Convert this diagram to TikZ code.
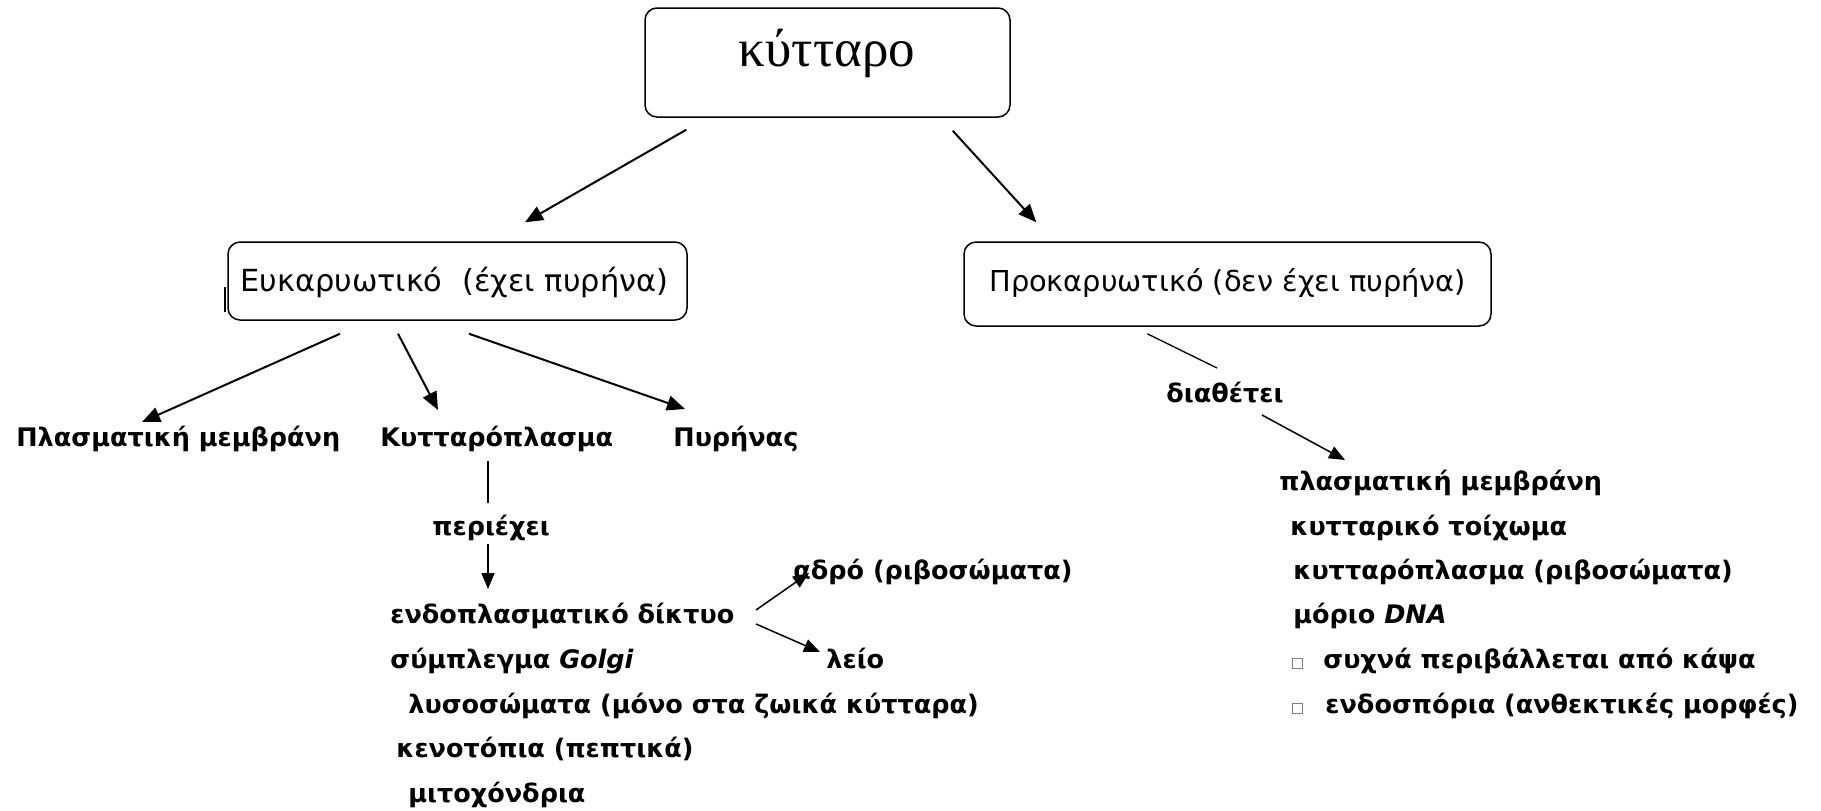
\documentclass[tikz,border=0pt]{standalone}
\usepackage{fontspec}
\setmainfont{DejaVu Sans}
\newfontfamily\titlefont{Liberation Serif}
\usetikzlibrary{arrows.meta}

\begin{document}
\begin{tikzpicture}[x=0.5pt,y=-0.5pt,
  box/.style={draw, line width=0.75pt, rounded corners=6pt, inner sep=0pt},
  boxtext/.style={font=\fontsize{14.4}{16}\selectfont, inner sep=0pt, anchor=base west},
  term/.style={font=\bfseries\fontsize{12.75}{15}\selectfont, inner sep=0pt, anchor=base west},
  arr/.style={line width=1pt, -{Triangle[length=9pt,width=7.5pt]}},
  thinarr/.style={line width=0.75pt, -{Triangle[length=8pt,width=6.5pt]}},
  thinline/.style={line width=0.65pt},
  tick/.style={draw=gray, line width=0.4pt, minimum size=5pt, inner sep=0pt}]
\useasboundingbox (0,0) rectangle (1821,810);

% top box
\node[box, minimum width=182.5pt, minimum height=54.5pt] (kyt) at (827.5,62.5) {};
\node[font=\titlefont\fontsize{26.5}{30}\selectfont, inner sep=0pt] (kyttxt) at (827,53) {κύτταρο};

% eukaryotic and prokaryotic boxes
\node[box, minimum width=229.5pt, minimum height=39pt] (euk) at (457.5,281) {};
\node[boxtext, font=\fontsize{15.2}{17}\selectfont] (euktxt) at (240,291) {Ευκαρυωτικό\hspace{10pt}(έχει πυρήνα)};
\draw[line width=1pt] (225,287) -- (225,312);
\node[box, minimum width=263.5pt, minimum height=42pt] (prok) at (1227.5,284) {};
\node[boxtext] (proktxt) at (989,291) {Προκαρυωτικό (δεν έχει πυρήνα)};

% eukaryotic branch
\node[term] (pmem) at (16,446) {Πλασματική μεμβράνη};
\node[term] (kpl) at (380,446) {Κυτταρόπλασμα};
\node[term] (pyr) at (673,446) {Πυρήνας};
\node[term] (perie) at (432,535) {περιέχει};
\node[term] (endo) at (390,623) {ενδοπλασματικό δίκτυο};
\node[term] (golgi) at (390,668) {σύμπλεγμα \textit{Golgi}};
\node[term] (lyso) at (408,713) {λυσοσώματα (μόνο στα ζωικά κύτταρα)};
\node[term] (keno) at (396,757) {κενοτόπια (πεπτικά)};
\node[term] (mito) at (408,802) {μιτοχόνδρια};
\node[term] (adro) at (793,579) {αδρό (ριβοσώματα)};
\node[term] (leio) at (826,668) {λείο};

% prokaryotic branch
\node[term] (diath) at (1166,402) {διαθέτει};
\node[term] (p1) at (1279,490) {πλασματική μεμβράνη};
\node[term] (p2) at (1290,535) {κυτταρικό τοίχωμα};
\node[term] (p3) at (1293,579) {κυτταρόπλασμα (ριβοσώματα)};
\node[term] (p4) at (1293,623) {μόριο \textit{DNA}};
\node[tick] (b5) at (1297.5,663) {};
\node[term] (p5) at (1323,668) {συχνά περιβάλλεται από κάψα};
\node[tick] (b6) at (1297.5,708) {};
\node[term] (p6) at (1325,713) {ενδοσπόρια (ανθεκτικές μορφές)};

% connectors
\draw[arr] ([shift={(42,12)}]kyt.south west) -- ([shift={(67.5,-19)}]euk.north);
\draw[arr] ([shift={(-58,13)}]kyt.south east) -- ([shift={(73,-19)}]prok.north west);
\draw[arr] ([shift={(-117.5,13)}]euk.south) -- ([shift={(126,-24)}]pmem.base west);
\draw[arr] ([shift={(-59.5,13)}]euk.south) -- ([shift={(58,-36)}]kpl.base west);
\draw[arr] ([shift={(11.5,13)}]euk.south) -- ([shift={(12,-37)}]pyr.base west);
\draw[thinline] ([shift={(108,15)}]kpl.base west) -- ([shift={(56,-32)}]perie.base west);
\draw[thinarr] ([shift={(56,9)}]perie.base west) -- ([shift={(98,-34)}]endo.base west);
\draw[thinarr] ([shift={(366,-13)}]endo.base west) -- ([shift={(16,-6)}]adro.base west);
\draw[thinarr] ([shift={(366,1)}]endo.base west) -- ([shift={(-6,-16)}]leio.base west);
\draw[thinline] ([shift={(184,7)}]prok.south west) -- ([shift={(51,-34)}]diath.base west);
\draw[thinarr] ([shift={(96,13)}]diath.base west) -- ([shift={(66,-30)}]p1.base west);
\end{tikzpicture}
\end{document}
